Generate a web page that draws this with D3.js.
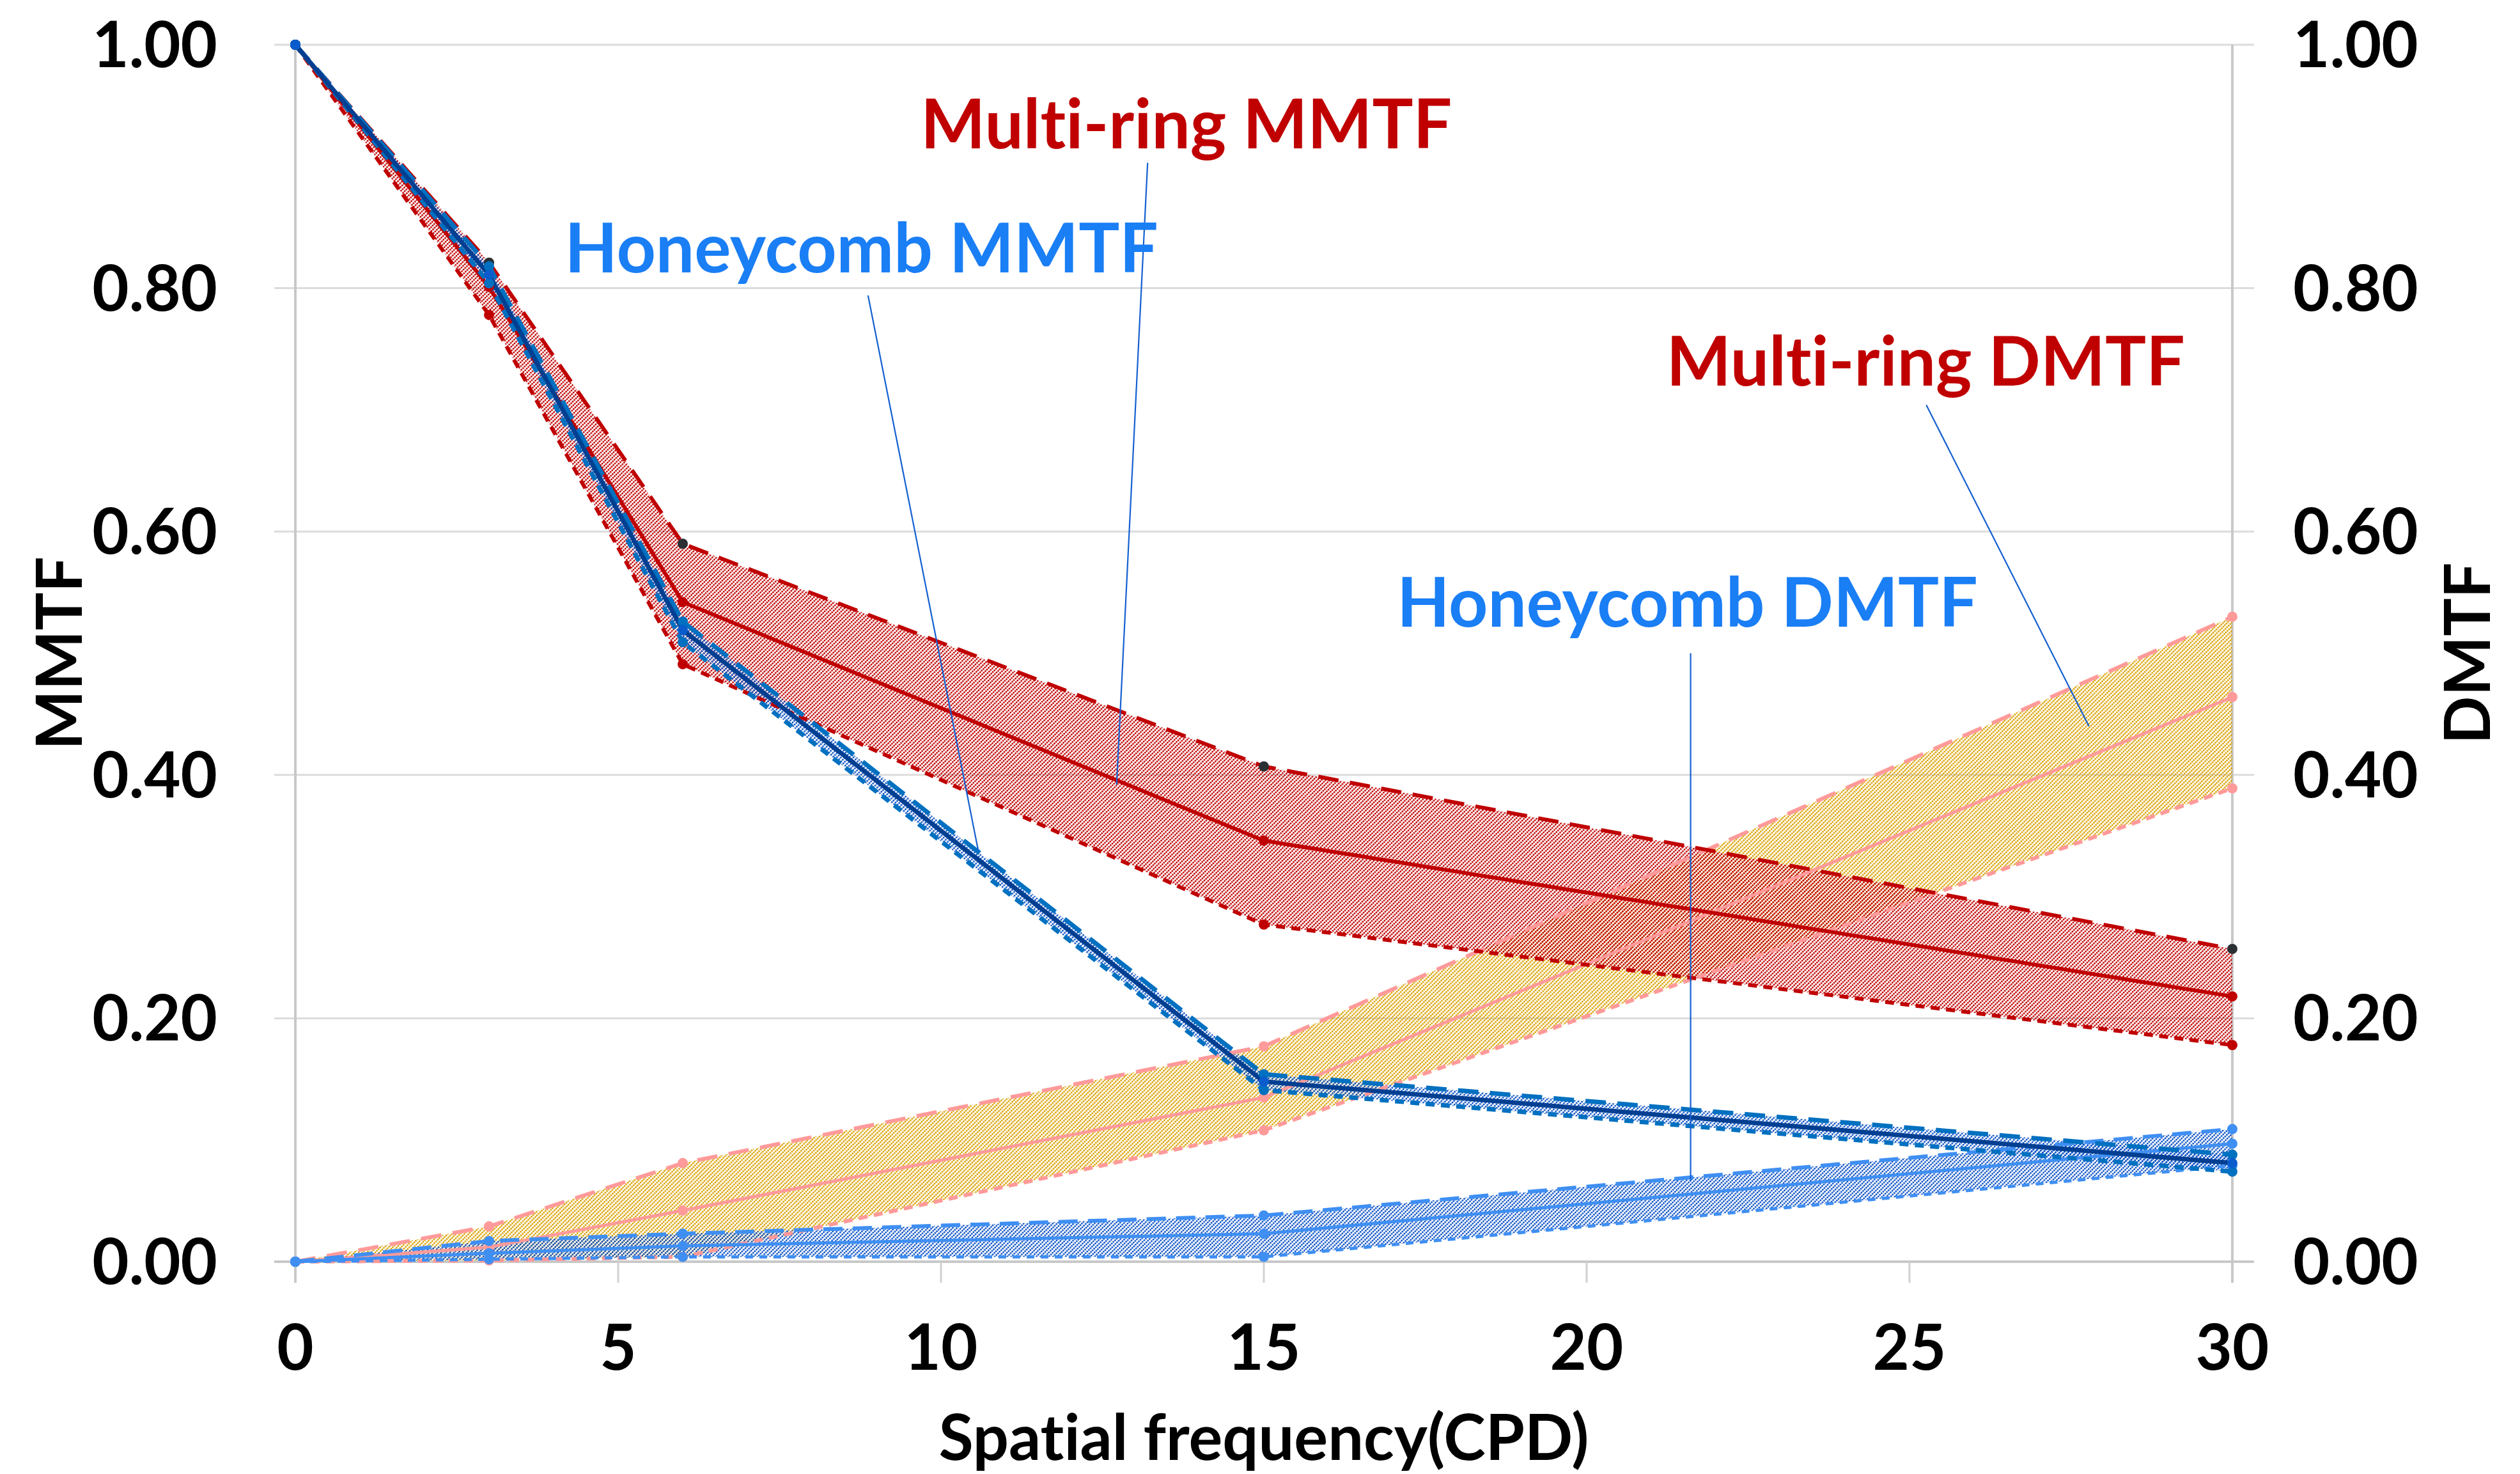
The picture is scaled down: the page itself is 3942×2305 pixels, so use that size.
<!DOCTYPE html>
<html>
<head>
<meta charset="utf-8">
<script src="https://cdn.jsdelivr.net/npm/d3@7/dist/d3.min.js"></script>
<style>
  html, body { margin: 0; padding: 0; background: #fff; }
  svg { display: block; }
  text { font-family: Lato, "Open Sans", "Liberation Sans", sans-serif; font-weight: 700; font-variant-ligatures: none; }
</style>
</head>
<body>
<svg id="chart" width="3942" height="2305"></svg>
<script>
// Spatial frequency sample points (CPD)
const freq = [0, 3, 6, 15, 30];

// Multi-ring MMTF (left axis): upper bound, mean, lower bound
const mrMmtfUpper = [1.00, 0.821, 0.590, 0.407, 0.257];
const mrMmtfMean  = [1.00, 0.801, 0.542, 0.346, 0.218];
const mrMmtfLower = [1.00, 0.778, 0.491, 0.277, 0.178];

// Honeycomb MMTF (left axis)
const hcMmtfUpper = [1.00, 0.818, 0.526, 0.154, 0.088];
const hcMmtfMean  = [1.00, 0.811, 0.519, 0.148, 0.081];
const hcMmtfLower = [1.00, 0.804, 0.509, 0.141, 0.074];

// Multi-ring DMTF (right axis)
const mrDmtfUpper = [0, 0.029, 0.081, 0.177, 0.530];
const mrDmtfMean  = [0, 0.012, 0.042, 0.135, 0.464];
const mrDmtfLower = [0, 0.001, 0.004, 0.108, 0.389];

// Honeycomb DMTF (right axis)
const hcDmtfUpper = [0, 0.017, 0.023, 0.038, 0.109];
const hcDmtfMean  = [0, 0.007, 0.013, 0.023, 0.097];
const hcDmtfLower = [0, 0.002, 0.004, 0.004, 0.079];

// Axis ticks
const xTicks = [0, 5, 10, 15, 20, 25, 30];
const yTicks = [0, 0.2, 0.4, 0.6, 0.8, 1.0];

const svg = d3.select("#chart");
const W = 3942, H = 2305;
const margin = { left: 462, right: W - 3492, top: 70, bottom: H - 1973 };

const x = d3.scaleLinear().domain([0, 30]).range([margin.left, W - margin.right]);
const yL = d3.scaleLinear().domain([0, 1]).range([H - margin.bottom, margin.top]);
const yR = d3.scaleLinear().domain([0, 1]).range([H - margin.bottom, margin.top]);

// Dotted diagonal hatch patterns for the bands
const defs = svg.append("defs");
function hatch(id, color) {
  const p = defs.append("pattern")
    .attr("id", id)
    .attr("patternUnits", "userSpaceOnUse")
    .attr("width", 4.6).attr("height", 3.6)
    .attr("patternTransform", "rotate(45)");
  p.append("rect").attr("x", 0).attr("y", 0).attr("width", 2.5).attr("height", 2.6).attr("fill", color);
}
hatch("hatchRed", "#c00000");
hatch("hatchGold", "#d9a000");
hatch("hatchBlue", "#0a50c4");

// Gridlines
const gGrid = svg.append("g");
gGrid.selectAll("line.h").data(yTicks).join("line")
  .attr("x1", x(0) - 33).attr("x2", x(30) + 34)
  .attr("y1", d => yL(d)).attr("y2", d => yL(d))
  .attr("stroke", d => d === 0 ? "#c8c8c8" : "#dcdcdc")
  .attr("stroke-width", d => d === 0 ? 4 : 3);

// Left and right axis lines
[0, 30].forEach(v => {
  gGrid.append("line")
    .attr("x1", x(v)).attr("x2", x(v))
    .attr("y1", yL(1)).attr("y2", yL(0) + 33)
    .attr("stroke", "#c8c8c8").attr("stroke-width", 4);
});
// Bottom tick marks
gGrid.selectAll("line.xt").data(xTicks.filter(d => d !== 0 && d !== 30)).join("line")
  .attr("x1", d => x(d)).attr("x2", d => x(d))
  .attr("y1", yL(0)).attr("y2", yL(0) + 33)
  .attr("stroke", "#d0d0d0").attr("stroke-width", 3);

// Band helpers
const area = (yScale, up, lo) => d3.area()
  .x((d, i) => x(freq[i]))
  .y0((d, i) => yScale(lo[i]))
  .y1((d, i) => yScale(up[i]))(freq);

const lineGen = (yScale, vals) => d3.line()
  .x((d, i) => x(freq[i]))
  .y((d, i) => yScale(vals[i]))(freq);

// Bands
const gBands = svg.append("g");
gBands.append("path").attr("d", area(yR, mrDmtfUpper, mrDmtfLower)).attr("fill", "url(#hatchGold)");
gBands.append("path").attr("d", area(yL, mrMmtfUpper, mrMmtfLower)).attr("fill", "url(#hatchRed)");
gBands.append("path").attr("d", area(yR, hcDmtfUpper, hcDmtfLower)).attr("fill", "url(#hatchBlue)");
gBands.append("path").attr("d", area(yL, hcMmtfUpper, hcMmtfLower)).attr("fill", "url(#hatchBlue)");

// Series lines and markers
const series = [
  { y: yR, vals: mrDmtfLower, color: "#ff9a9a", dash: "14,10", w: 6, mark: "#ff9a9a" },
  { y: yR, vals: mrDmtfUpper, color: "#ff9a9a", dash: "32,18", w: 6, mark: "#ff9a9a" },
  { y: yR, vals: mrDmtfMean,  color: "#ff9a9a", dash: null,    w: 5, mark: "#ff9a9a" },
  { y: yR, vals: hcDmtfLower, color: "#3f8ff3", dash: "12,10", w: 5, mark: "#3f8ff3" },
  { y: yR, vals: hcDmtfUpper, color: "#3f8ff3", dash: "30,16", w: 6, mark: "#3f8ff3" },
  { y: yR, vals: hcDmtfMean,  color: "#3f8ff3", dash: null,    w: 5, mark: "#3f8ff3" },
  { y: yL, vals: mrMmtfLower, color: "#c00000", dash: "14,10", w: 6, mark: "#c00000" },
  { y: yL, vals: mrMmtfUpper, color: "#c00000", dash: "32,18", w: 6, mark: "#2a2f34" },
  { y: yL, vals: mrMmtfMean,  color: "#c00000", dash: null,    w: 6, mark: "#c00000" },
  { y: yL, vals: hcMmtfLower, color: "#0070c0", dash: "14,10", w: 7, mark: "#0070c0" },
  { y: yL, vals: hcMmtfUpper, color: "#0070c0", dash: "32,18", w: 7, mark: "#0070c0" },
  { y: yL, vals: hcMmtfMean,  color: "#003f91", dash: null,    w: 7, mark: "#0a5ccc" }
];

const gLines = svg.append("g");
series.forEach(s => {
  gLines.append("path")
    .attr("d", lineGen(s.y, s.vals))
    .attr("fill", "none")
    .attr("stroke", s.color)
    .attr("stroke-width", s.w)
    .attr("stroke-dasharray", s.dash)
    .attr("stroke-linejoin", "round");
});
series.forEach(s => {
  gLines.selectAll(null).data(s.vals).join("circle")
    .attr("cx", (d, i) => x(freq[i]))
    .attr("cy", d => s.y(d))
    .attr("r", 8)
    .attr("fill", s.mark);
});

// Tick labels
const fmt = d3.format(".2f");
const gAxes = svg.append("g").attr("fill", "#000");
gAxes.selectAll("text.yl").data(yTicks).join("text")
  .attr("x", 340).attr("y", d => yL(d) + 35)
  .attr("text-anchor", "end").attr("font-size", 99)
  .text(d => fmt(d));
gAxes.selectAll("text.yr").data(yTicks).join("text")
  .attr("x", 3587).attr("y", d => yR(d) + 35)
  .attr("text-anchor", "start").attr("font-size", 99)
  .text(d => fmt(d));
gAxes.selectAll("text.xl").data(xTicks).join("text")
  .attr("x", d => x(d)).attr("y", 2142)
  .attr("text-anchor", "middle").attr("font-size", 99)
  .text(d => d);

// Axis titles
gAxes.append("text")
  .attr("transform", `translate(128,${(yL(0) + yL(1)) / 2}) rotate(-90)`)
  .attr("text-anchor", "middle").attr("font-size", 99)
  .text("MMTF");
gAxes.append("text")
  .attr("transform", `translate(3895,${(yR(0) + yR(1)) / 2}) rotate(-90)`)
  .attr("text-anchor", "middle").attr("font-size", 99)
  .text("DMTF");
gAxes.append("text")
  .attr("x", (x(0) + x(30)) / 2).attr("y", 2283)
  .attr("text-anchor", "middle").attr("font-size", 99)
  .text("Spatial frequency(CPD)");

// Callout labels with leader lines (positions in data coordinates)
const callouts = [
  { text: "Multi-ring MMTF", color: "#c00000", tx: 13.8, ty: 0.915, from: [13.2, 0.903], to: [12.72, 0.392] },
  { text: "Honeycomb MMTF",  color: "#1a7ef5", tx: 8.77, ty: 0.813, from: [8.87, 0.794], to: [10.58, 0.337] },
  { text: "Multi-ring DMTF", color: "#c00000", tx: 25.25, ty: 0.720, from: [25.26, 0.704], to: [27.78, 0.440] },
  { text: "Honeycomb DMTF",  color: "#1a7ef5", tx: 21.56, ty: 0.522, from: [21.61, 0.500], to: [21.61, 0.066] }
];
const gCall = svg.append("g");
callouts.forEach(c => {
  gCall.append("line")
    .attr("x1", x(c.from[0])).attr("y1", yL(c.from[1]))
    .attr("x2", x(c.to[0])).attr("y2", yL(c.to[1]))
    .attr("stroke", "#1560d0").attr("stroke-width", 2.2);
  gCall.append("text")
    .attr("x", x(c.tx)).attr("y", yL(c.ty))
    .attr("text-anchor", "middle").attr("font-size", 107)
    .attr("fill", c.color)
    .text(c.text);
});
</script>
</body>
</html>
